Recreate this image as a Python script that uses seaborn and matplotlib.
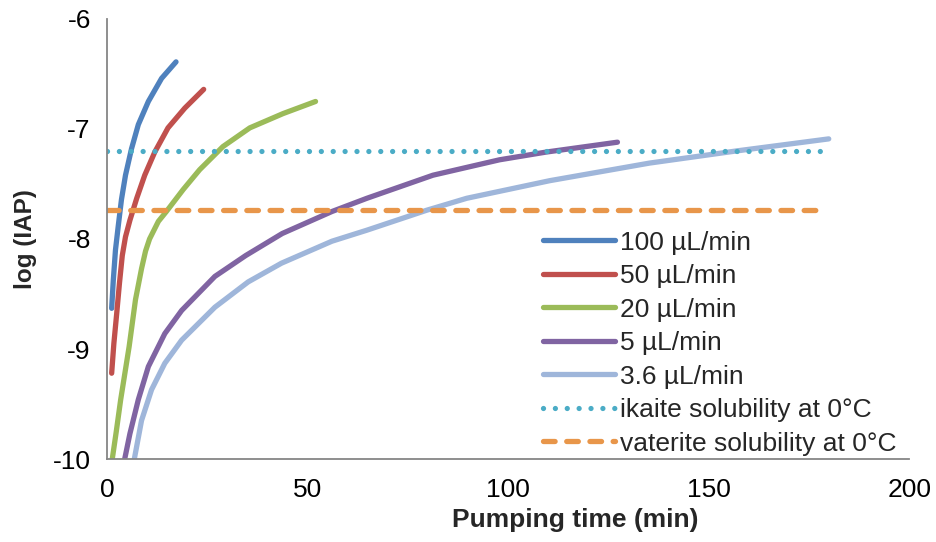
import numpy as np
import pandas as pd
import matplotlib
matplotlib.use("Agg")
import matplotlib.pyplot as plt
import seaborn as sns

# ---- data ----
t_100 = [1.05, 1.45, 2.0, 2.7, 3.5, 4.5, 6.0, 7.7, 10.2, 13.5, 17.1]
y_100 = [-8.63, -8.38, -8.10, -7.88, -7.64, -7.42, -7.18, -6.96, -6.75, -6.54, -6.39]

t_50 = [1.05, 1.6, 2.3, 3.0, 3.7, 4.5, 5.6, 7.3, 9.3, 11.8, 15.1, 19.3, 24.0]
y_50 = [-9.22, -8.95, -8.68, -8.40, -8.15, -7.98, -7.83, -7.63, -7.42, -7.21, -6.99, -6.81, -6.64]

t_20 = [1.2, 2.2, 3.3, 5.4, 7.0, 8.5, 9.5, 10.5, 12.7, 14.7, 16.8, 18.9, 23.0, 28.8, 35.5, 43.8, 51.9]
y_20 = [-10.0, -9.75, -9.46, -8.98, -8.55, -8.27, -8.11, -8.00, -7.84, -7.75, -7.65, -7.55, -7.37, -7.16, -6.99, -6.86, -6.75]

t_5 = [4.3, 5.6, 7.7, 10.2, 14.3, 18.5, 26.8, 34.5, 43.6, 56.0, 64.7, 81.2, 97.8, 109.4, 127.2]
y_5 = [-10.0, -9.77, -9.46, -9.16, -8.86, -8.65, -8.34, -8.15, -7.95, -7.75, -7.63, -7.42, -7.28, -7.21, -7.12]

t_36 = [6.7, 8.5, 11.0, 14.3, 18.5, 26.8, 35.1, 43.4, 56.0, 64.7, 79.5, 89.6, 110.3, 135.2, 156.8, 179.9]
y_36 = [-10.0, -9.65, -9.37, -9.13, -8.92, -8.62, -8.39, -8.22, -8.02, -7.92, -7.74, -7.63, -7.47, -7.31, -7.20, -7.09]

series_labels = ["100 µL/min", "50 µL/min", "20 µL/min", "5 µL/min", "3.6 µL/min"]
series_colors = ["#4F81BD", "#C0504D", "#9BBB59", "#8064A2", "#9FB6DA"]

ikaite_t = [0, 178]
ikaite_y = [-7.20, -7.20]
vaterite_t = [0, 178]
vaterite_y = [-7.74, -7.74]

x_ticks = [0, 50, 100, 150, 200]
y_ticks = [-10, -9, -8, -7, -6]

# ---- plotting ----
sns.set_theme(style="white")
plt.rcParams["font.family"] = ["Liberation Sans", "DejaVu Sans"]

fig = plt.figure(figsize=(9.36, 5.42), dpi=100)
ax = fig.add_axes([0.1148, 0.1531, 0.8567, 0.8119])

lw = 3.8
for t, y, lab, col in zip([t_100, t_50, t_20, t_5, t_36],
                          [y_100, y_50, y_20, y_5, y_36],
                          series_labels, series_colors):
    df = pd.DataFrame({"t": t, "y": y})
    sns.lineplot(data=df, x="t", y="y", ax=ax, color=col, linewidth=lw,
                 label=lab, estimator=None, sort=False,
                 solid_capstyle="round", solid_joinstyle="round")

df_ik = pd.DataFrame({"t": ikaite_t, "y": ikaite_y})
sns.lineplot(data=df_ik, x="t", y="y", ax=ax, color="#4BACC6", linewidth=lw,
             label="ikaite solubility at 0°C", estimator=None,
             linestyle=(0, (0.001, 2.25)), dash_capstyle="round")
df_va = pd.DataFrame({"t": vaterite_t, "y": vaterite_y})
sns.lineplot(data=df_va, x="t", y="y", ax=ax, color="#E8964A", linewidth=lw,
             label="vaterite solubility at 0°C", estimator=None,
             linestyle=(0, (2.2, 2.2)), dash_capstyle="round")

ax.set_xlim(0, 200)
ax.set_ylim(-10, -6)
ax.set_xticks(x_ticks)
ax.set_yticks(y_ticks)
ax.set_xticklabels([str(v) for v in x_ticks])
ax.set_yticklabels([str(v) for v in y_ticks])

for s in ["top", "right"]:
    ax.spines[s].set_visible(False)
for s in ["left", "bottom"]:
    ax.spines[s].set_color("#868686")
    ax.spines[s].set_linewidth(1.3)

ax.tick_params(axis="both", which="major", direction="out", length=6,
               width=1.3, color="#868686", labelsize=19, labelcolor="black")
ax.tick_params(axis="y", pad=6)
ax.tick_params(axis="x", pad=8)

ax.set_xlabel("Pumping time (min)", fontsize=19, fontweight="bold")
ax.xaxis.set_label_coords(0.584, -0.112)
ax.set_ylabel("log (IAP)", fontsize=17.5, fontweight="bold")
ax.yaxis.set_label_coords(-0.088, 0.50)

leg = ax.legend(loc="upper left", bbox_to_anchor=(0.580, 0.5747),
                bbox_transform=fig.transFigure, frameon=False,
                fontsize=19, handlelength=2.73, handletextpad=0.19,
                labelspacing=0.36, borderaxespad=0, borderpad=0)

fig.savefig("out.png", dpi=100)
